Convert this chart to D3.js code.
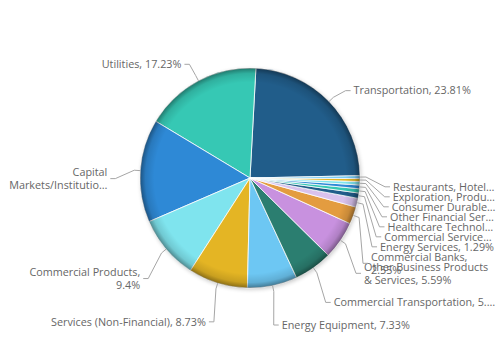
<!DOCTYPE html>
<html>
<head>
<meta charset="utf-8">
<script src="https://cdn.jsdelivr.net/npm/d3@7"></script>
<style>
  body { margin: 0; background: #fff; }
  svg { display: block; }
</style>
</head>
<body>
<svg id="chart" width="500" height="347"></svg>
<script>
// Portfolio weight by sector, in drawing order (counter-clockwise from 3 o'clock)
const sectors = [
  "Transportation", "Utilities", "Capital Markets/Institutional", "Commercial Products",
  "Services (Non-Financial)", "Energy Equipment", "Commercial Transportation",
  "Other Business Products & Services", "Commercial Banks", "Energy Services",
  "Commercial Services", "Healthcare Technology", "Other Financial Services",
  "Consumer Durables", "Exploration, Production & Refining", "Restaurants, Hotels & Leisure"
];
const shares = [23.81, 17.23, 15.12, 9.4, 8.73, 7.33, 5.65, 5.59, 2.55, 1.29, 0.78, 0.62, 0.55, 0.5, 0.45, 0.4];
// how many text lines each label may wrap onto
const maxLines = [1, 1, 2, 2, 1, 1, 1, 2, 2, 1, 1, 1, 1, 1, 1, 1];
const palette = ["#215d8a", "#36c8b4", "#2e89d6", "#7fe4ee", "#e4b524",
                 "#6dc7f3", "#2b7e70", "#c891df", "#e39c40", "#d9c2ed"];

const FONT = "'Open Sans', sans-serif";
const FS = 10.8;
const cx = 250, cy = 178, R = 110;
const labelCy = cy + 10, labelR = 140, slot = 10, lineH = 13;
const deg = Math.PI / 180;

const svg = d3.select("#chart");
const defs = svg.append("defs");

// darkened rim that gives the pie its rounded look
const rim = defs.append("radialGradient")
  .attr("id", "rim").attr("gradientUnits", "userSpaceOnUse")
  .attr("cx", cx).attr("cy", cy).attr("r", R);
rim.selectAll("stop")
  .data([[0, 0], [0.87, 0], [0.95, 0.12], [1, 0.4]])
  .join("stop")
  .attr("offset", d => d[0])
  .attr("stop-color", "#000")
  .attr("stop-opacity", d => d[1]);

const blur = defs.append("filter").attr("id", "soft")
  .attr("x", "-20%").attr("y", "-20%").attr("width", "140%").attr("height", "140%");
blur.append("feGaussianBlur").attr("stdDeviation", 2);

const pie = d3.pie().sort(null).value(d => d)
  .startAngle(88.8 * deg).endAngle((88.8 - 360) * deg);
const arcs = pie(shares);
const arc = d3.arc().innerRadius(0).outerRadius(R);

const g = svg.append("g");
g.append("circle").attr("cx", cx + 1).attr("cy", cy + 1.5).attr("r", R)
  .attr("fill", "#000").attr("opacity", 0.22).attr("filter", "url(#soft)");

const pieG = g.append("g").attr("transform", `translate(${cx},${cy})`);
pieG.selectAll("path.slice")
  .data(arcs)
  .join("path")
  .attr("class", "slice")
  .attr("d", arc)
  .attr("fill", (d, i) => palette[i % palette.length])
  .attr("stroke", "#fff")
  .attr("stroke-width", 0.8)
  .attr("stroke-linejoin", "round");
g.append("circle").attr("cx", cx).attr("cy", cy).attr("r", R)
  .attr("fill", "url(#rim)").attr("pointer-events", "none");

// ---- text measuring and fitting ----
const meas = svg.append("text").attr("font-family", FONT).attr("font-size", FS)
  .attr("visibility", "hidden");
function tw(s) { meas.text(s); return meas.node().getComputedTextLength(); }

function fit(text, maxW, maxL) {
  const words = text.split(" ");
  const lines = [];
  let cur = "";
  for (let i = 0; i < words.length; i++) {
    const trial = cur ? cur + " " + words[i] : words[i];
    if (tw(trial) <= maxW) { cur = trial; continue; }
    if (cur && lines.length < maxL - 1 && tw(words[i]) <= maxW) {
      lines.push(cur); cur = words[i]; continue;
    }
    if (cur && lines.length < maxL - 1) { lines.push(cur); cur = ""; }
    const rest = (cur ? cur + " " : "") + words.slice(i).join(" ");
    let k = rest.length;
    while (k > 0 && tw(rest.slice(0, k).trimEnd() + "…") > maxW) k--;
    lines.push(rest.slice(0, k).trimEnd() + "…");
    return lines;
  }
  lines.push(cur);
  return lines;
}

// ---- label layout ----
const rightLimit = 496, leftLimit = 7;
function connXAt(y, right) {
  const dy = y - labelCy;
  const dx = Math.sqrt(Math.max(0, labelR * labelR - dy * dy));
  return cx + (right ? dx : -dx);
}

const labels = arcs.map((a, i) => {
  const mid = (a.startAngle + a.endAngle) / 2;
  const right = Math.sin(mid) > 0;
  const natY = labelCy - Math.cos(mid) * labelR;
  const text = `${sectors[i]}, ${shares[i]}%`;
  const x0 = connXAt(natY, right);
  const avail = right ? rightLimit - (x0 + 3) : (x0 - 3) - leftLimit;
  const n = fit(text, avail, maxLines[i]).length;
  return { i, mid, right, natY, text, n, anchor: natY - (n - 1) * lineH / 2 };
});

// keep labels on each side at least one slot apart, pushing downward
[true, false].forEach(side => {
  const list = labels.filter(l => l.right === side).sort((p, q) => p.anchor - q.anchor);
  for (let k = 1; k < list.length; k++) {
    list[k].anchor = Math.max(list[k].anchor, list[k - 1].anchor + slot);
  }
});

const labelG = svg.append("g");
labels.forEach(l => {
  const yc = l.anchor + (l.n - 1) * lineH / 2;
  const connX = connXAt(yc, l.right);
  const tx = connX + (l.right ? 3 : -3);
  const avail = l.right ? rightLimit - tx : tx - leftLimit;
  const lines = fit(l.text, avail, maxLines[l.i]);
  const knee = connX + (l.right ? -5 : 5);
  const brk = [cx + Math.sin(l.mid) * (R + 6), cy - Math.cos(l.mid) * (R + 6)];
  const edge = [cx + Math.sin(l.mid) * R, cy - Math.cos(l.mid) * R];
  labelG.append("path")
    .attr("d", d3.line()([[connX, yc], [knee, yc], brk, edge]))
    .attr("fill", "none").attr("stroke", "#a6a6a6").attr("stroke-width", 1);
  const t = labelG.append("text")
    .attr("font-family", FONT).attr("font-size", FS).attr("fill", "#666")
    .attr("text-anchor", l.right ? "start" : "end");
  const top = yc - (lines.length - 1) * lineH / 2;
  lines.forEach((s, j) => {
    t.append("tspan").attr("x", tx).attr("y", top + j * lineH).attr("dy", "0.35em").text(s);
  });
});
meas.remove();
</script>
</body>
</html>
